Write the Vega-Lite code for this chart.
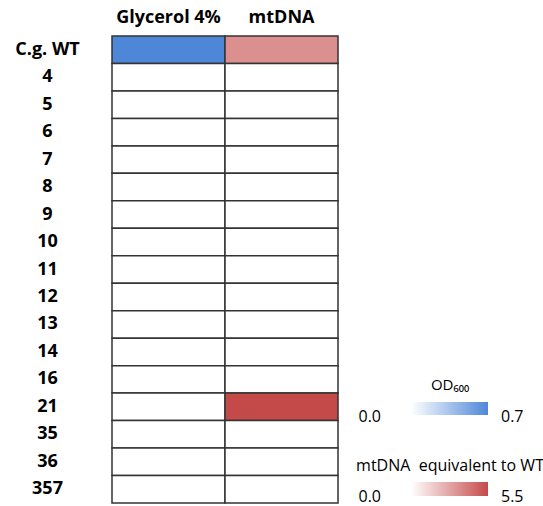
{
  "$schema": "https://vega.github.io/schema/vega-lite/v6.json",
  "width": 226,
  "height": 467,
  "autosize": "none",
  "padding": {"left": 112, "top": 36, "right": 205, "bottom": 3},
  "background": "white",
  "config": {
    "view": {"stroke": null},
    "font": "Open Sans",
    "legend": {"padding": 0}
  },
  "data": {
    "values": [
      {"strain": "C.g. WT", "assay": "Glycerol 4%", "value": 0.7},
      {"strain": "C.g. WT", "assay": "mtDNA", "value": 3.4},
      {"strain": "4", "assay": "Glycerol 4%", "value": 0},
      {"strain": "4", "assay": "mtDNA", "value": 0},
      {"strain": "5", "assay": "Glycerol 4%", "value": 0},
      {"strain": "5", "assay": "mtDNA", "value": 0},
      {"strain": "6", "assay": "Glycerol 4%", "value": 0},
      {"strain": "6", "assay": "mtDNA", "value": 0},
      {"strain": "7", "assay": "Glycerol 4%", "value": 0},
      {"strain": "7", "assay": "mtDNA", "value": 0},
      {"strain": "8", "assay": "Glycerol 4%", "value": 0},
      {"strain": "8", "assay": "mtDNA", "value": 0},
      {"strain": "9", "assay": "Glycerol 4%", "value": 0},
      {"strain": "9", "assay": "mtDNA", "value": 0},
      {"strain": "10", "assay": "Glycerol 4%", "value": 0},
      {"strain": "10", "assay": "mtDNA", "value": 0},
      {"strain": "11", "assay": "Glycerol 4%", "value": 0},
      {"strain": "11", "assay": "mtDNA", "value": 0},
      {"strain": "12", "assay": "Glycerol 4%", "value": 0},
      {"strain": "12", "assay": "mtDNA", "value": 0},
      {"strain": "13", "assay": "Glycerol 4%", "value": 0},
      {"strain": "13", "assay": "mtDNA", "value": 0},
      {"strain": "14", "assay": "Glycerol 4%", "value": 0},
      {"strain": "14", "assay": "mtDNA", "value": 0},
      {"strain": "16", "assay": "Glycerol 4%", "value": 0},
      {"strain": "16", "assay": "mtDNA", "value": 0},
      {"strain": "21", "assay": "Glycerol 4%", "value": 0},
      {"strain": "21", "assay": "mtDNA", "value": 5.5},
      {"strain": "35", "assay": "Glycerol 4%", "value": 0},
      {"strain": "35", "assay": "mtDNA", "value": 0},
      {"strain": "36", "assay": "Glycerol 4%", "value": 0},
      {"strain": "36", "assay": "mtDNA", "value": 0},
      {"strain": "357", "assay": "Glycerol 4%", "value": 0},
      {"strain": "357", "assay": "mtDNA", "value": 0}
    ]
  },
  "encoding": {
    "x": {
      "field": "assay",
      "type": "nominal",
      "sort": ["Glycerol 4%", "mtDNA"],
      "scale": {"paddingInner": 0, "paddingOuter": 0},
      "axis": {
        "orient": "top",
        "title": null,
        "ticks": false,
        "domain": false,
        "labelAngle": 0,
        "labelFontSize": 18,
        "labelFontWeight": "bold",
        "labelColor": "#000000",
        "labelPadding": 10
      }
    },
    "y": {
      "field": "strain",
      "type": "nominal",
      "sort": ["C.g. WT", "4", "5", "6", "7", "8", "9", "10", "11", "12", "13", "14", "16", "21", "35", "36", "357"],
      "scale": {"paddingInner": 0, "paddingOuter": 0},
      "axis": {
        "title": null,
        "ticks": false,
        "domain": false,
        "labelFontSize": 18,
        "labelFontWeight": "bold",
        "labelColor": "#000000",
        "labelAlign": "center",
        "labelPadding": 65
      }
    }
  },
  "layer": [
    {
      "transform": [{"filter": "datum.assay == 'Glycerol 4%'"}],
      "mark": {"type": "rect", "stroke": "#333333", "strokeWidth": 1.5},
      "encoding": {
        "color": {
          "field": "value",
          "type": "quantitative",
          "scale": {"domain": [0, 0.7], "range": ["#ffffff", "#4f87d8"], "interpolate": "rgb"},
          "legend": {
            "title": "OD₆₀₀",
            "orient": "none",
            "legendX": 299,
            "legendY": 342,
            "direction": "horizontal",
            "gradientLength": 77,
            "gradientThickness": 13,
            "gradientStrokeWidth": 0,
            "titleAnchor": "middle",
            "titleFontSize": 15,
            "titleFontWeight": "normal",
            "titleColor": "#000000",
            "titlePadding": 9,
            "labelFontSize": 16,
            "labelColor": "#000000",
            "labelBaseline": "middle",
            "labelOffset": -6.5,
            "labelOverlap": false,
            "values": [0, 0.7],
            "format": ".1f",
            "encode": {
              "labels": {
                "update": {
                  "align": {"signal": "datum.value == 0 ? 'right' : 'left'"},
                  "dx": {"signal": "datum.value == 0 ? -30 : 13"}
                }
              }
            }
          }
        }
      }
    },
    {
      "transform": [{"filter": "datum.assay == 'mtDNA'"}],
      "mark": {"type": "rect", "stroke": "#333333", "strokeWidth": 1.5},
      "encoding": {
        "color": {
          "field": "value",
          "type": "quantitative",
          "scale": {"domain": [0, 5.5], "range": ["#ffffff", "#c44a4a"], "interpolate": "rgb"},
          "legend": {
            "title": "mtDNA\u00a0 equivalent to WT",
            "orient": "none",
            "legendX": 244,
            "legendY": 422,
            "direction": "horizontal",
            "gradientLength": 77,
            "gradientThickness": 14,
            "gradientStrokeWidth": 0,
            "titleAnchor": "middle",
            "titleLimit": 400,
            "titleFontSize": 16,
            "titleFontWeight": "normal",
            "titleColor": "#000000",
            "titlePadding": 8,
            "labelFontSize": 16,
            "labelColor": "#000000",
            "labelBaseline": "middle",
            "labelOffset": -7,
            "labelOverlap": false,
            "values": [0, 5.5],
            "format": ".1f",
            "encode": {
              "labels": {
                "update": {
                  "align": {"signal": "datum.value == 0 ? 'right' : 'left'"},
                  "dx": {"signal": "datum.value == 0 ? -30 : 13"}
                }
              }
            }
          }
        }
      }
    }
  ],
  "resolve": {"scale": {"color": "independent"}}
}
